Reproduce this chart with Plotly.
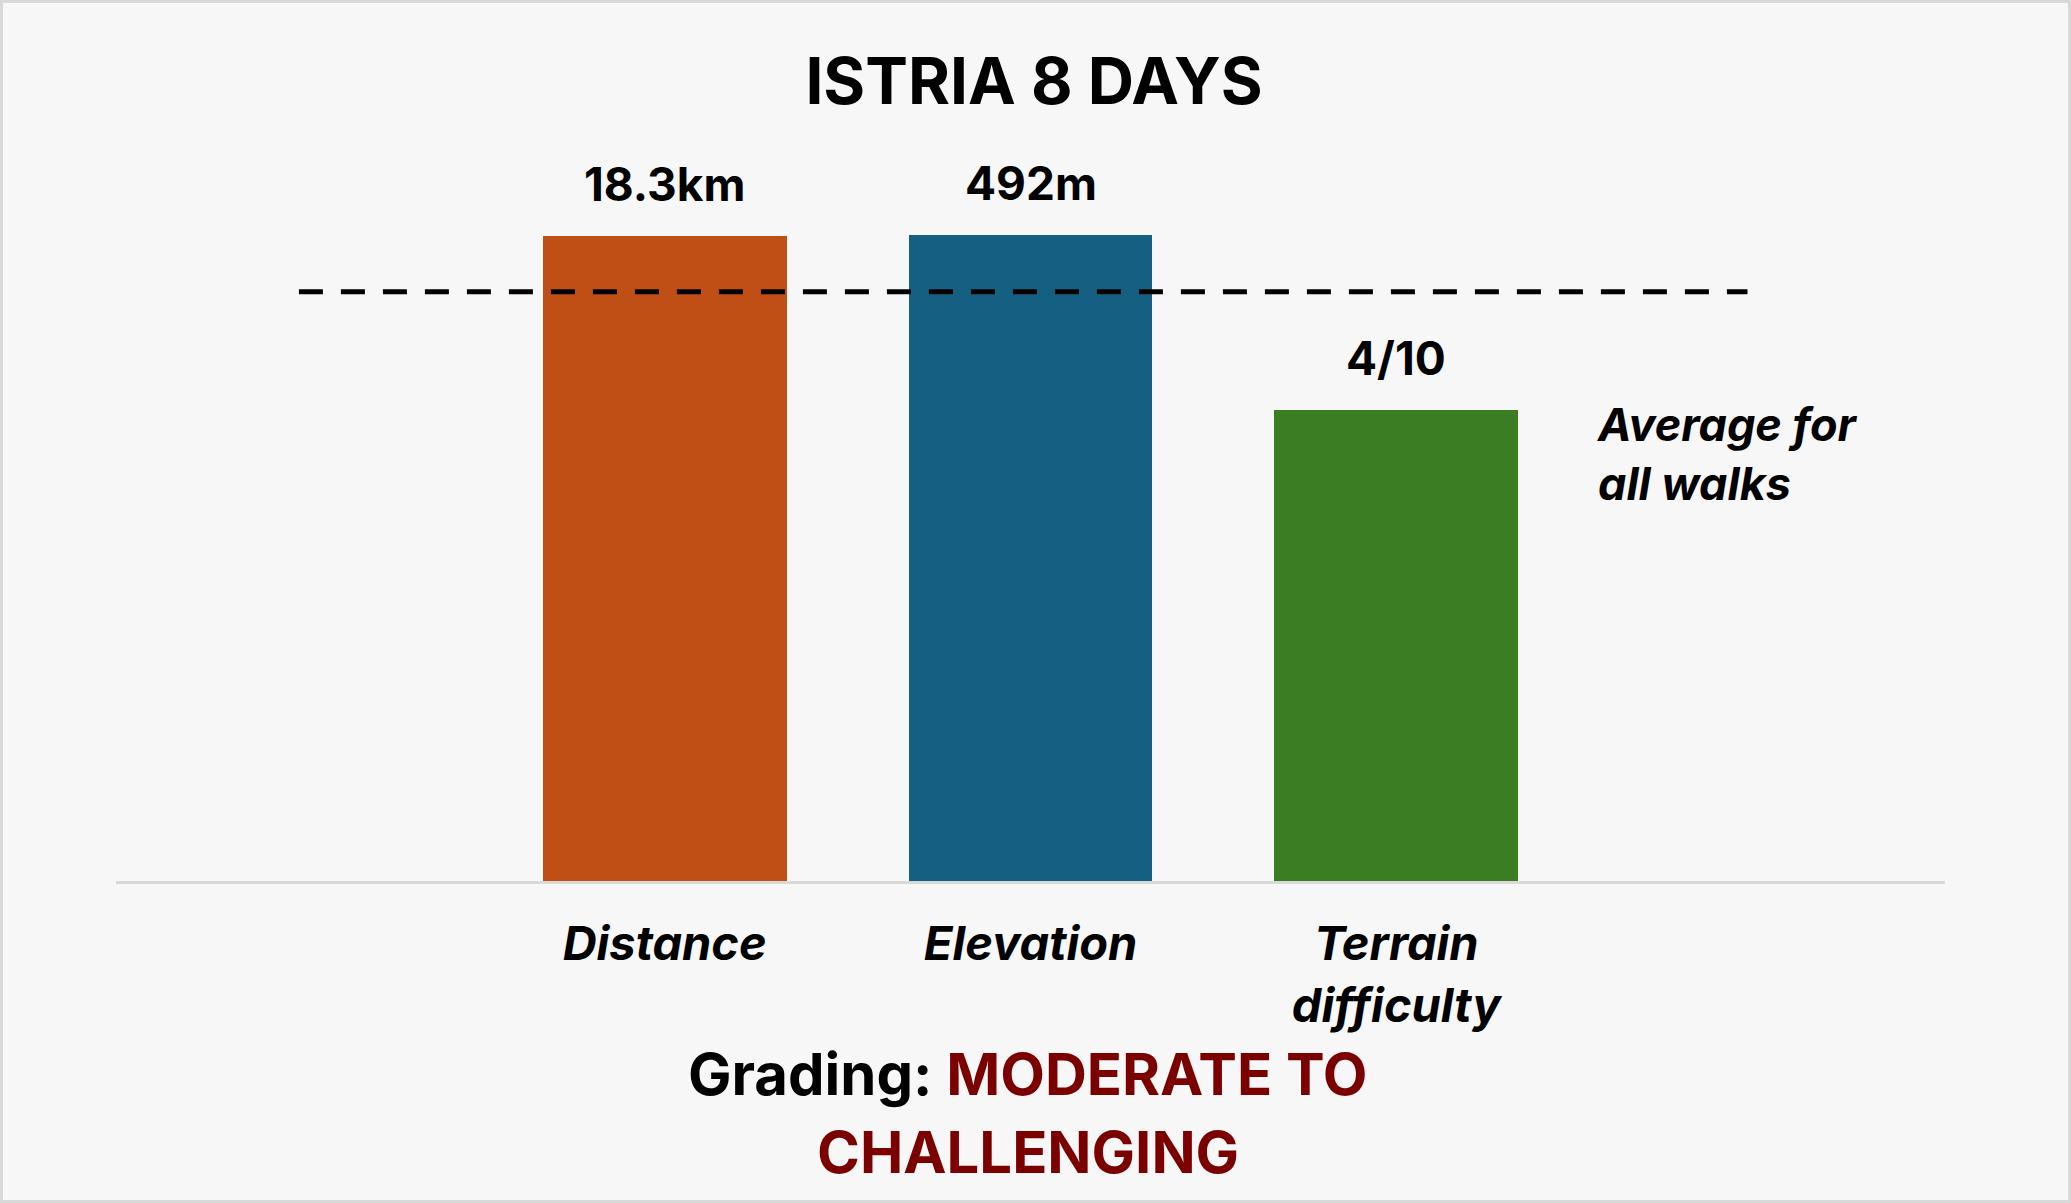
import plotly.graph_objects as go

# ---- data ----
categories = ["Distance", "Elevation", "Terrain<br>difficulty"]
value_labels = ["18.3km", "492m", "4/10"]
relative_to_average = [1.095, 1.097, 0.80]   # bar height relative to the all-walks average
average_level = 1.0
average_span = [-1.0, 2.96]                  # extent of the dashed average line (category units)
bar_colors = ["#C04F15", "#156082", "#3B7D23"]
title_text = "ISTRIA 8 DAYS"
average_label = "Average for<br>all walks"
grading_prefix = "Grading: "
grading_lines = ["MODERATE TO", "CHALLENGING"]

FONT = "Inter"
W, H = 2071, 1203
L, R, T, B = 116, 126, 115, 322
plot_w = W - L - R
plot_h = H - T - B

xpos = list(range(len(categories)))

fig = go.Figure()
fig.add_trace(go.Bar(
    x=xpos, y=relative_to_average, width=0.667,
    marker=dict(color=bar_colors, line=dict(width=0)),
    hoverinfo="skip", showlegend=False,
))
fig.add_trace(go.Scatter(
    x=average_span, y=[average_level, average_level], mode="lines",
    line=dict(color="black", width=5, dash="24px,18px"),
    hoverinfo="skip", showlegend=False,
))

for xi, val, lab in zip(xpos, relative_to_average, value_labels):
    fig.add_annotation(x=xi, y=val, text=f"<b>{lab}</b>", showarrow=False,
                       yanchor="bottom", yshift=22,
                       font=dict(family=FONT, size=46, color="black"))

fig.add_annotation(x=2.543, y=0.724, xanchor="left", yanchor="middle",
                   text=f"<b><i>{average_label}</i></b>", showarrow=False, align="left",
                   font=dict(family=FONT, size=45, color="black"))


def px_to_paper_x(px):
    return (px - L) / plot_w


def px_to_paper_y(py):
    return (H - B - py) / plot_h


fig.add_annotation(xref="paper", yref="paper", x=px_to_paper_x(1028), y=px_to_paper_y(1074),
                   xanchor="center", yanchor="middle", align="center", showarrow=False,
                   text=f"<b>{grading_prefix}<span style='color:#7B0000'>{grading_lines[0]}</span></b>",
                   font=dict(family=FONT, size=58, color="black"))
fig.add_annotation(xref="paper", yref="paper", x=px_to_paper_x(1028), y=px_to_paper_y(1152),
                   xanchor="center", yanchor="middle", align="center", showarrow=False,
                   text=f"<b>{grading_lines[1]}</b>",
                   font=dict(family=FONT, size=58, color="#7B0000"))

# frame around the whole picture
fig.add_shape(type="rect", xref="paper", yref="paper",
              x0=px_to_paper_x(1.5), x1=px_to_paper_x(W - 1.5),
              y0=px_to_paper_y(H - 1.5), y1=px_to_paper_y(1.5),
              line=dict(color="#D9D9D9", width=3), fillcolor="rgba(0,0,0,0)", layer="above")

fig.update_layout(
    width=W, height=H,
    margin=dict(l=L, r=R, t=T, b=B, pad=0),
    paper_bgcolor="#F7F7F7", plot_bgcolor="#F7F7F7",
    title=dict(text=f"<b>{title_text}</b>", x=0.4993, xref="container", xanchor="center",
               y=1 - 82 / H, yref="container", yanchor="middle",
               font=dict(family=FONT, size=64, color="black")),
    xaxis=dict(range=[-1.5, 3.5], tickmode="array", tickvals=xpos,
               ticktext=[f"<b><i>{c}</i></b>" for c in categories],
               tickfont=dict(family=FONT, size=47, color="black"),
               showgrid=False, zeroline=False, showline=True, linecolor="#D9D9D9", linewidth=3,
               ticks="", ticklabelstandoff=20, fixedrange=True),
    yaxis=dict(range=[0, 1.3], visible=False, fixedrange=True),
    bargap=0,
)

fig.write_html("out.html", config={"displayModeBar": False})
